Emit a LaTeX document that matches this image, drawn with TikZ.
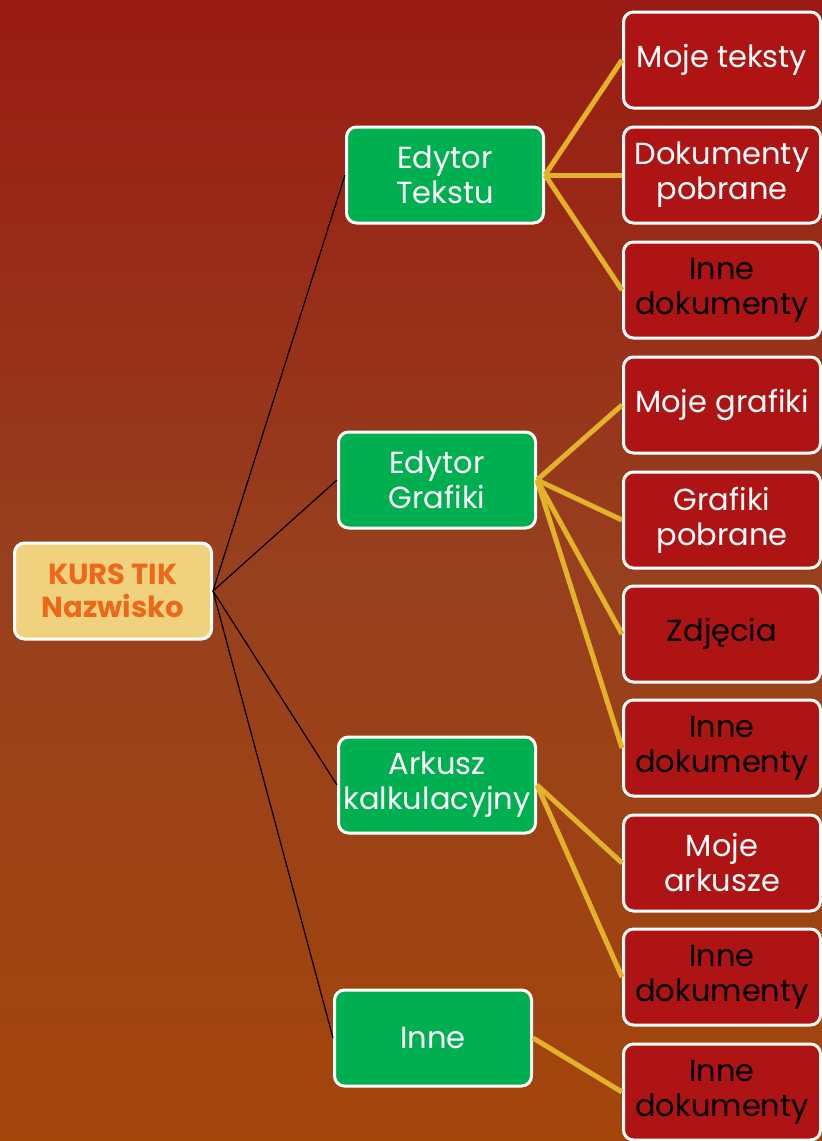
\documentclass[tikz,border=0pt]{standalone}
\usepackage{fontspec}
\setmainfont{Poppins}
\usetikzlibrary{positioning}

\definecolor{bgtop}{HTML}{991B13}
\definecolor{bgmid}{HTML}{97401E}
\definecolor{bgbottom}{HTML}{A3450B}
\definecolor{rootfill}{HTML}{F0D27E}
\definecolor{roottext}{HTML}{EC681A}
\definecolor{groupgreen}{HTML}{00AF50}
\definecolor{leafred}{HTML}{AE1414}
\definecolor{linegold}{HTML}{E2B22A}

\begin{document}
\begin{tikzpicture}[x=1pt, y=-1pt,
  box/.style={draw=white, line width=3pt, rounded corners=10pt, minimum width=197pt,
              minimum height=96pt, align=center, inner sep=1pt,
              font=\fontsize{30.5}{35}\selectfont},
  root/.style={box, fill=rootfill, text=roottext, font=\bfseries\fontsize{29}{33}\selectfont},
  group/.style={box, fill=groupgreen, text=white},
  leaf/.style={box, fill=leafred, text=white},
  leafdark/.style={leaf, text=black},
  trunk/.style={black, line width=1.2pt},
  branch/.style={linegold, line width=5pt}
]
  % Background
  \useasboundingbox (0,0) rectangle (822,1141);
  \shade[top color=bgtop, bottom color=bgbottom, middle color=bgmid] (0,0) rectangle (822,1141);

  %--- Root ---
  \node[root] (root) at (113, 591) {KURS TIK\\Nazwisko};

  %--- Groups ---
  \node[group] (tekst)  at (445, 175)  {Edytor\\Tekstu};
  \node[group] (grafik) at (437, 480)  {Edytor\\Grafiki};
  \node[group] (arkusz) at (437, 785)  {Arkusz\\kalkulacyjny};
  \node[group] (inne)   at (433, 1038) {Inne};

  \draw[trunk] (root.east) -- (tekst.west);
  \draw[trunk] (root.east) -- (grafik.west);
  \draw[trunk] (root.east) -- (arkusz.west);
  \draw[trunk] (root.east) -- (inne.west);

  %--- Leaves ---
  \node[leaf]     (mojeTeksty)  at (722, 60)   {Moje teksty};
  \node[leaf]     (dokPobrane)  at (722, 175)  {Dokumenty\\pobrane};
  \node[leafdark] (inneTekst)   at (722, 290)  {Inne\\dokumenty};
  \node[leaf]     (mojeGrafiki) at (722, 405)  {Moje grafiki};
  \node[leaf]     (grafPobrane) at (722, 520)  {Grafiki\\pobrane};
  \node[leafdark] (zdjecia)     at (722, 634)  {Zdjęcia};
  \node[leafdark] (inneGrafik)  at (722, 748)  {Inne\\dokumenty};
  \node[leaf]     (mojeArkusze) at (722, 863)  {Moje\\arkusze};
  \node[leafdark] (inneArkusz)  at (722, 977)  {Inne\\dokumenty};
  \node[leafdark] (inneInne)    at (722, 1092) {Inne\\dokumenty};

  \draw[branch] (tekst.east) -- (mojeTeksty.west);
  \draw[branch] (tekst.east) -- (dokPobrane.west);
  \draw[branch] (tekst.east) -- (inneTekst.west);

  \draw[branch] (grafik.east) -- (mojeGrafiki.west);
  \draw[branch] (grafik.east) -- (grafPobrane.west);
  \draw[branch] (grafik.east) -- (zdjecia.west);
  \draw[branch] (grafik.east) -- (inneGrafik.west);

  \draw[branch] (arkusz.east) -- (mojeArkusze.west);
  \draw[branch] (arkusz.east) -- (inneArkusz.west);

  \draw[branch] (inne.east) -- (inneInne.west);

\end{tikzpicture}
\end{document}
